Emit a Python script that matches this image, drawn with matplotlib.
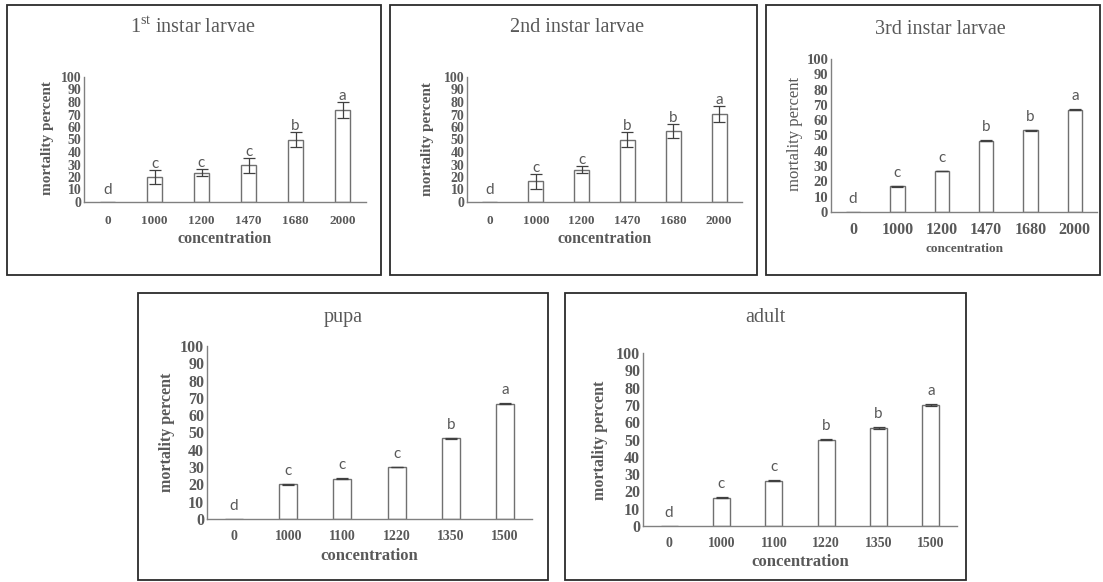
import matplotlib
matplotlib.use("Agg")
import matplotlib.pyplot as plt
from matplotlib.patches import Rectangle

plt.rcParams["mathtext.fontset"] = "custom"
plt.rcParams["mathtext.rm"] = "Liberation Serif"

W, H = 1103, 582
fig = plt.figure(figsize=(W / 100, H / 100), dpi=100)

# ---------------- data ----------------
larvae_conc = ["0", "1000", "1200", "1470", "1680", "2000"]
stage_conc = ["0", "1000", "1100", "1220", "1350", "1500"]

l1_vals = [0, 20, 23.5, 29.5, 50, 73.5]
l1_err = [0, 5.5, 3, 6, 6, 6.5]
l1_letters = ["d", "c", "c", "c", "b", "a"]

l2_vals = [0, 16.5, 26, 50, 57, 70.5]
l2_err = [0, 6, 3, 6, 5.5, 6.5]
l2_letters = ["d", "c", "c", "b", "b", "a"]

l3_vals = [0, 16.8, 26.8, 46.5, 53.3, 66.8]
l3_err = [0, 0.3, 0.3, 0.3, 0.4, 0.3]
l3_letters = ["d", "c", "c", "b", "b", "a"]

pupa_vals = [0, 20, 23.3, 30, 46.7, 66.7]
pupa_err = [0, 0.2, 0.4, 0.2, 0.3, 0.5]
pupa_letters = ["d", "c", "c", "c", "b", "a"]

adult_vals = [0, 16.3, 26.3, 50, 56.8, 70]
adult_err = [0, 0.4, 0.4, 0.2, 0.7, 0.5]
adult_letters = ["d", "c", "c", "b", "b", "a"]

yticks = list(range(0, 101, 10))

TXT = "#595959"
SERIF = "Liberation Serif"


def fx(x):
    return x / W


def fy(y):
    return 1 - y / H


def border(x0, y0, x1, y1):
    fig.patches.append(Rectangle((fx(x0), fy(y1)), fx(x1) - fx(x0), fy(y0) - fy(y1),
                                 transform=fig.transFigure, fill=False,
                                 edgecolor="#2b2b2b", linewidth=1.3, zorder=0))


def panel(box, ax_px, title, cats, vals, errs, letters, title_xy,
          tick_fs, ytick_fs, ylab_fs, ylab_w, xlab_fs, title_fs, pad_px,
          xlab_y, xtick_pad, ylab_xy):
    border(*box)
    x0, ytop, x1, ybot = ax_px
    ax = fig.add_axes([fx(x0), fy(ybot), fx(x1) - fx(x0), fy(ytop) - fy(ybot)])
    ax.set_facecolor("none")
    xs = list(range(len(cats)))
    ax.bar(xs, vals, width=0.33, color="white", edgecolor="#707070", linewidth=1.0, zorder=2)
    ax.errorbar(xs[1:], vals[1:], yerr=errs[1:], fmt="none", ecolor="#404040",
                elinewidth=0.9, capsize=4, capthick=0.9, zorder=3)
    ax.set_xlim(-0.5, len(cats) - 0.5)
    ax.set_ylim(0, 100)
    ax.set_yticks(yticks)
    ax.set_yticklabels([str(t) for t in yticks], fontfamily=SERIF, fontweight="bold",
                       fontsize=ytick_fs, color=TXT)
    ax.set_xticks(xs)
    ax.set_xticklabels(cats, fontfamily=SERIF, fontweight="bold", fontsize=tick_fs, color=TXT)
    ax.tick_params(axis="both", length=0)
    ax.tick_params(axis="x", pad=xtick_pad)
    ax.tick_params(axis="y", pad=2)
    for s in ("top", "right"):
        ax.spines[s].set_visible(False)
    ax.spines["left"].set_color("#808080")
    ax.spines["bottom"].set_color("#808080")
    ax.spines["left"].set_linewidth(1.0)
    ax.spines["bottom"].set_linewidth(1.0)
    ax.spines["bottom"].set_zorder(4)
    for x, v, e, l in zip(xs, vals, errs, letters):
        off = pad_px if v > 0 else max(pad_px, 12.5)
        ax.annotate(l, (x, v + e), xytext=(0, off * 0.72), textcoords="offset points",
                    ha="center", va="center", fontsize=11, color=TXT,
                    fontfamily="Lato")
    fig.text(fx(ylab_xy[0]), fy(ylab_xy[1]), "mortality percent", rotation=90,
             ha="center", va="center", fontfamily=SERIF, fontweight=ylab_w,
             fontsize=ylab_fs, color=TXT)
    fig.text(fx((x0 + x1) / 2), fy(xlab_y), "concentration", ha="center", va="center",
             fontfamily=SERIF, fontweight="bold", fontsize=xlab_fs, color=TXT)
    fig.text(fx(title_xy[0]), fy(title_xy[1]), title, ha="center", va="center",
             fontfamily=SERIF, fontsize=title_fs, color=TXT)
    return ax


panel((7, 5, 381, 275), (84, 77, 366, 202), r"1$^{\mathrm{st}}$ instar larvae",
      larvae_conc, l1_vals, l1_err, l1_letters, (193, 28),
      9.5, 10, 11, "bold", 11.5, 14.5, 6, 239, 9, (47, 138))
panel((390, 5, 757, 275), (467, 77, 742, 202), "2nd instar larvae",
      larvae_conc, l2_vals, l2_err, l2_letters, (577, 28),
      9.5, 10, 11, "bold", 11.5, 14.5, 6, 239, 9, (428, 139))
panel((766, 5, 1100, 275), (831, 59, 1097, 212), "3rd instar larvae",
      larvae_conc, l3_vals, l3_err, l3_letters, (940, 30),
      11.5, 10.5, 12, "normal", 9.5, 14.5, 13, 249, 7, (795, 134))
panel((138, 293, 548, 580), (207, 346, 532, 519), "pupa",
      stage_conc, pupa_vals, pupa_err, pupa_letters, (343, 318),
      10, 11.5, 11.5, "bold", 12, 14.5, 13, 556, 8, (167, 432))
panel((565, 293, 966, 580), (643, 353, 957, 526), "adult",
      stage_conc, adult_vals, adult_err, adult_letters, (765, 318),
      10, 11.5, 11.5, "bold", 12, 14.5, 13, 562, 8, (600, 440))

fig.savefig("out.png", dpi=100)
